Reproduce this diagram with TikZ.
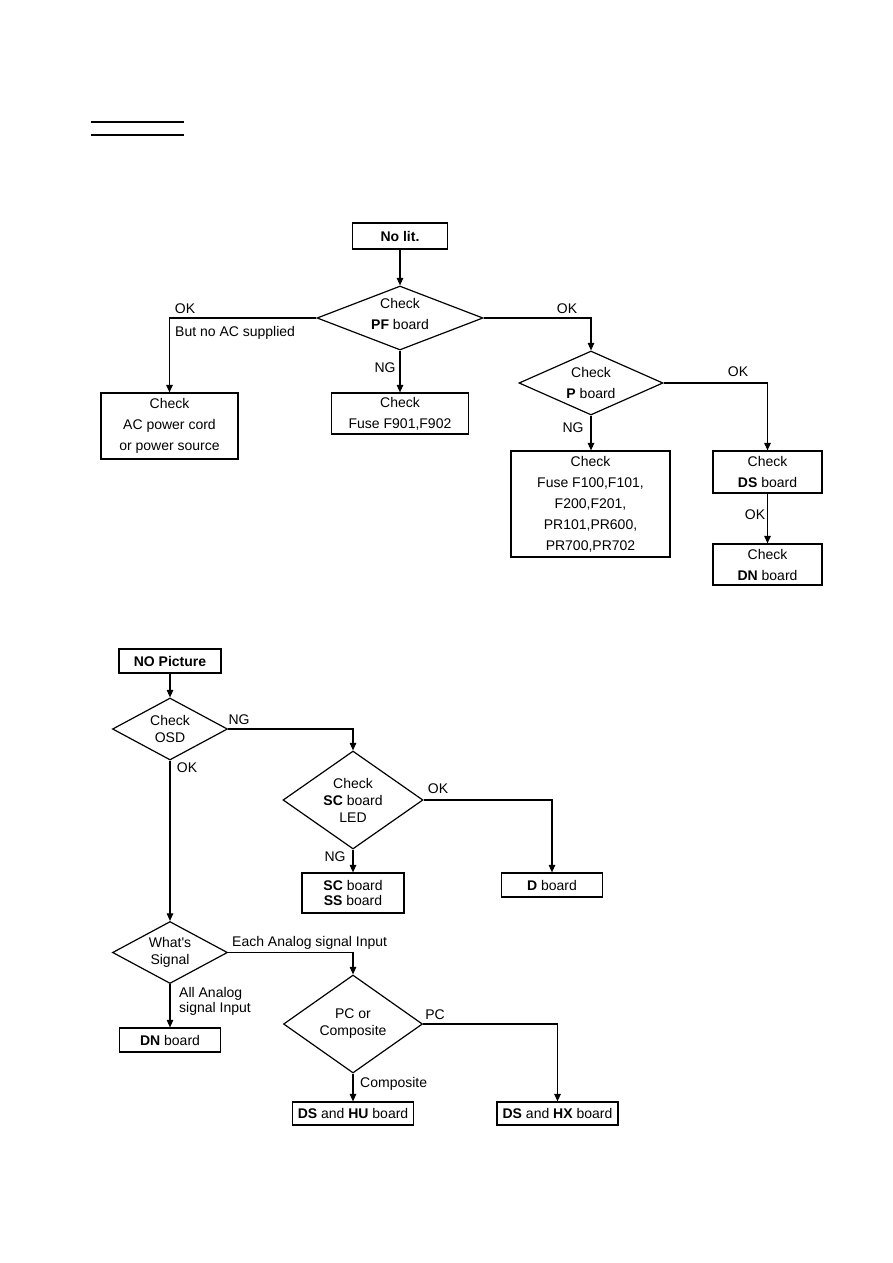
\documentclass[tikz,border=0pt]{standalone}
\usepackage{fontspec}
\setmainfont{Liberation Sans}
\usetikzlibrary{arrows.meta,shapes.geometric}
\tikzset{chkbox/.style={draw,line width=1.2pt,align=center,inner sep=0pt,font=\fontsize{14}{21}\selectfont},
 chkdia/.style={chkbox,diamond},
 flowarrow/.style={-{Triangle[length=7.5pt,width=6.5pt]},line width=1.1pt},
 lbl/.style={inner sep=0pt,font=\fontsize{14}{15}\selectfont}}
\begin{document}
\begin{tikzpicture}[x=1pt,y=-1pt,sq/.style={font=\fontsize{14}{17}\selectfont}]
\useasboundingbox (0,0) rectangle (893,1263);
\draw[line width=1.1pt] (91,122)--(184,122) (91,135)--(184,135);

\node[chkbox,minimum width=95,minimum height=26] (nolit) at (400,236) {\textbf{No lit.}};
\node[chkdia,aspect=2.6,minimum width=166,minimum height=64,text depth=8pt] (pf) at (400,318) {Check\\\textbf{PF} board};
\node[chkbox,minimum width=137,minimum height=66] (ac) at (169.5,426) {Check\\AC power cord\\or power source};
\node[chkbox,minimum width=137,minimum height=41] (f901) at (400,413.5) {Check\\Fuse F901,F902};
\node[chkdia,aspect=2.25,minimum width=144,minimum height=64] (pb) at (591,383) {Check\\\textbf{P} board};
\node[chkbox,minimum width=159,minimum height=106] (fuse) at (590.5,504) {Check\\Fuse F100,F101,\\F200,F201,\\PR101,PR600,\\PR700,PR702};
\node[chkbox,minimum width=109,minimum height=42] (ds) at (767.5,472) {Check\\\textbf{DS} board};
\node[chkbox,minimum width=109,minimum height=41] (dn) at (767.5,564.5) {Check\\\textbf{DN} board};
\node[lbl] (okac) at (185,309) {OK};
\node[lbl,anchor=west] (noac) at (175,333) {But no AC supplied};
\node[lbl] (ngpf) at (385,368) {NG};
\node[lbl] (okpf) at (567,309) {OK};
\node[lbl] (ngp) at (573,428) {NG};
\node[lbl] (okp) at (738,372) {OK};
\node[lbl] (okds) at (755,515) {OK};
\draw[flowarrow] (nolit)--(pf);
\draw[flowarrow] (pf.west)-|(ac.north);
\draw[flowarrow] (pf)--(f901);
\draw[flowarrow] (pf.east)-|(pb.north);
\draw[flowarrow] (pb)--(pb|-fuse.north);
\draw[flowarrow] (pb.east)-|(ds.north);
\draw[flowarrow] (ds)--(dn);

\node[chkbox,sq,minimum width=102,minimum height=24] (nopic) at (170,661) {\textbf{NO Picture}};
\node[chkdia,sq,aspect=1.85,minimum width=115,minimum height=62] (osd) at (170,729) {Check\\OSD};
\node[chkdia,sq,aspect=1.43,minimum width=140,minimum height=98] (sc) at (353,800) {Check\\\textbf{SC} board\\LED};
\node[chkbox,minimum width=102,minimum height=40,font=\fontsize{14}{15}\selectfont] (scss) at (353,893) {\textbf{SC} board\\\textbf{SS} board};
\node[chkbox,sq,minimum width=101,minimum height=24] (dbd) at (552,885) {\textbf{D} board};
\node[chkdia,sq,aspect=1.85,minimum width=115,minimum height=62] (sig) at (170,952.5) {What\textquotesingle s\\Signal};
\node[chkbox,sq,minimum width=101,minimum height=24] (dnb) at (170,1040) {\textbf{DN} board};
\node[chkdia,sq,aspect=1.42,minimum width=139,minimum height=98] (pc) at (353,1024) {PC or\\Composite};
\node[chkbox,sq,minimum width=121,minimum height=23] (hu) at (353,1113.5) {\textbf{DS} and \textbf{HU} board};
\node[chkbox,sq,minimum width=121,minimum height=23] (hx) at (557.5,1113.5) {\textbf{DS} and \textbf{HX} board};
\node[lbl] (ngosd) at (239,720) {NG};
\node[lbl] (okosd) at (187,768) {OK};
\node[lbl] (oksc) at (438,789) {OK};
\node[lbl] (ngsc) at (335,857) {NG};
\node[lbl,anchor=west] (each) at (232,943) {Each Analog signal Input};
\node[lbl,anchor=west,align=left] (allan) at (179,1001) {All Analog\\signal Input};
\node[lbl] (pclb) at (435,1015) {PC};
\node[lbl,anchor=west] (comp) at (360,1084) {Composite};
\draw[flowarrow] (nopic)--(osd);
\draw[flowarrow] (osd.east)-|(sc.north);
\draw[flowarrow] (osd)--(sig);
\draw[flowarrow] (sc.east)-|(dbd.north);
\draw[flowarrow] (sc)--(scss);
\draw[flowarrow] (sig.east)-|(pc.north);
\draw[flowarrow] (sig)--(dnb);
\draw[flowarrow] (pc.east)-|(hx.north);
\draw[flowarrow] (pc)--(hu);
\end{tikzpicture}
\end{document}
